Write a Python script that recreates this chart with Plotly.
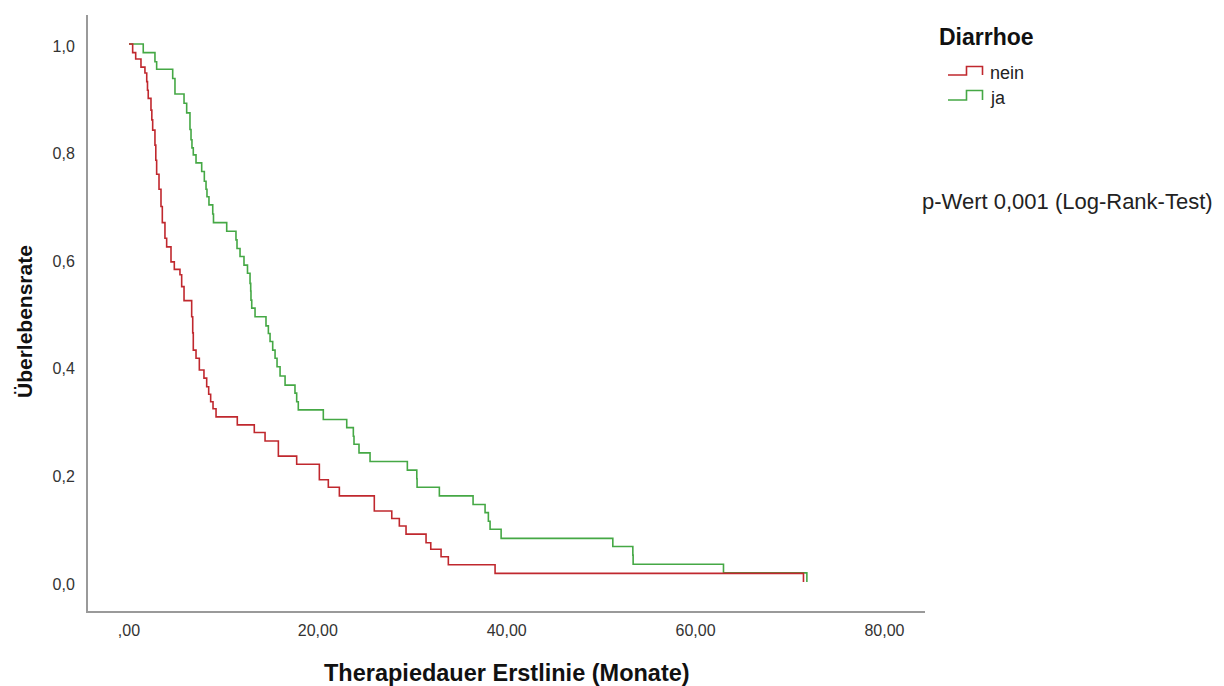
import plotly.graph_objects as go

# ---------------- data ----------------
# Kaplan-Meier steps: time of event (months) and survival after that event
nein_time = [0, 0.39, 0.71, 1.27, 1.69, 1.88, 1.96, 2.04, 2.33, 2.42, 2.51, 2.75,
             2.84, 2.93, 3.18, 3.39, 3.53, 3.81, 3.99, 4.45, 4.80, 5.40, 5.58,
             5.83, 6.64, 6.75, 6.81, 7.10, 7.45, 7.94, 8.23, 8.44, 8.65, 8.90,
             9.22, 11.47, 13.27, 14.41, 15.82, 17.76, 20.16, 21.11, 22.28, 25.98,
             27.83, 28.63, 29.34, 31.46, 31.96, 33.05, 33.82, 38.77, 71.43]
nein_surv = [1.0, 0.984, 0.972, 0.957, 0.946, 0.930, 0.914, 0.899, 0.877, 0.859,
             0.840, 0.812, 0.784, 0.758, 0.730, 0.698, 0.668, 0.639, 0.623, 0.595,
             0.581, 0.571, 0.549, 0.523, 0.493, 0.463, 0.431, 0.416, 0.394, 0.379,
             0.363, 0.349, 0.335, 0.322, 0.307, 0.292, 0.278, 0.262, 0.234, 0.219,
             0.190, 0.176, 0.160, 0.132, 0.118, 0.104, 0.089, 0.073, 0.061, 0.047,
             0.032, 0.016, 0.0]

ja_time = [0, 1.51, 2.75, 2.93, 4.63, 4.87, 5.83, 6.11, 6.46, 6.57, 6.67, 6.81,
           7.10, 7.70, 7.98, 8.16, 8.26, 8.47, 8.87, 8.95, 10.35, 11.33, 11.44,
           11.76, 12.18, 12.55, 12.82, 12.89, 12.92, 13.00, 13.35, 14.51, 14.76,
           14.94, 15.22, 15.47, 15.68, 16.00, 16.53, 17.58, 17.76, 17.93, 20.58,
           23.06, 23.76, 23.83, 24.36, 25.53, 29.48, 30.48, 30.51, 32.87, 36.44,
           37.71, 38.06, 38.24, 39.41, 51.24, 53.36, 53.39, 62.96, 71.79]
ja_surv = [1.0, 0.984, 0.967, 0.953, 0.936, 0.907, 0.890, 0.872, 0.841, 0.822,
           0.807, 0.794, 0.779, 0.763, 0.745, 0.730, 0.716, 0.701, 0.684, 0.668,
           0.652, 0.636, 0.620, 0.605, 0.589, 0.574, 0.555, 0.541, 0.524, 0.509,
           0.493, 0.476, 0.462, 0.447, 0.431, 0.416, 0.400, 0.383, 0.366, 0.351,
           0.335, 0.320, 0.302, 0.287, 0.271, 0.256, 0.240, 0.224, 0.208, 0.192,
           0.176, 0.160, 0.144, 0.129, 0.113, 0.098, 0.081, 0.066, 0.050, 0.033,
           0.017, 0.0]

x_tickvals = [0, 20, 40, 60, 80]
x_ticktext = [",00", "20,00", "40,00", "60,00", "80,00"]
y_tickvals = [0.0, 0.2, 0.4, 0.6, 0.8, 1.0]
y_ticktext = ["0,0", "0,2", "0,4", "0,6", "0,8", "1,0"]

group_names = ["nein", "ja"]
legend_title = "Diarrhoe"
x_title = "Therapiedauer Erstlinie (Monate)"
y_title = "Überlebensrate"
note_text = "p-Wert 0,001 (Log-Rank-Test)"

# ---------------- styling ----------------
RED = "#c0282e"
GREEN = "#45a845"
FONT = "Liberation Sans, Arial, sans-serif"
W, H = 1224, 686
L, R, T, B = 88, 299, 15, 75
PW, PH = W - L - R, H - T - B


def px(x):
    return (x - L) / PW


def py(y):
    return (H - B - y) / PH


fig = go.Figure()
fig.add_trace(go.Scatter(x=ja_time, y=ja_surv, mode="lines", name=group_names[1],
                         line=dict(color=GREEN, width=1.6, shape="hv"),
                         showlegend=False))
fig.add_trace(go.Scatter(x=nein_time, y=nein_surv, mode="lines", name=group_names[0],
                         line=dict(color=RED, width=1.6, shape="hv"),
                         showlegend=False))

axis_common = dict(showgrid=False, zeroline=False, showline=True,
                   linecolor="#9a9a9a", linewidth=2, ticks="",
                   tickfont=dict(family=FONT, size=16, color="#333333"),
                   fixedrange=True)

fig.update_layout(
    width=W, height=H, autosize=False,
    margin=dict(l=L, r=R, t=T, b=B, pad=0),
    paper_bgcolor="white", plot_bgcolor="white",
    xaxis=dict(range=[-4.34, 84.3], tickvals=x_tickvals, ticktext=x_ticktext,
               ticklabelstandoff=4, **axis_common),
    yaxis=dict(range=[-0.0539, 1.0539], tickvals=y_tickvals, ticktext=y_ticktext,
               ticklabelstandoff=8, ticklabelshift=2, **axis_common),
    showlegend=False,
)

annotations = [
    dict(text=f"<b>{x_title}</b>", x=px(507), y=py(673), xref="paper", yref="paper",
         showarrow=False, font=dict(family=FONT, size=23.5, color="#111111"),
         xanchor="center", yanchor="middle"),
    dict(text=f"<b>{y_title}</b>", x=px(24), y=py(322), xref="paper", yref="paper",
         showarrow=False, textangle=-90, font=dict(family=FONT, size=21, color="#111111"),
         xanchor="center", yanchor="middle"),
    dict(text=f"<b>{legend_title}</b>", x=px(937), y=py(37), xref="paper", yref="paper",
         showarrow=False, font=dict(family=FONT, size=23, color="#111111"),
         xanchor="left", yanchor="middle"),
    dict(text=group_names[0], x=px(988), y=py(73), xref="paper", yref="paper",
         showarrow=False, font=dict(family=FONT, size=18, color="#222222"),
         xanchor="left", yanchor="middle"),
    dict(text=group_names[1], x=px(988), y=py(98), xref="paper", yref="paper",
         showarrow=False, font=dict(family=FONT, size=18, color="#222222"),
         xanchor="left", yanchor="middle"),
    dict(text=note_text, x=px(920), y=py(202), xref="paper", yref="paper",
         showarrow=False, font=dict(family=FONT, size=22, color="#222222"),
         xanchor="left", yanchor="middle"),
]
fig.update_layout(annotations=annotations)


def glyph(y_low, y_high, color):
    pts = [(948, y_low), (966.5, y_low), (966.5, y_high), (982.5, y_high), (982.5, y_low)]
    path = "M " + " L ".join(f"{px(a):.5f},{py(b):.5f}" for a, b in pts)
    return dict(type="path", path=path, xref="paper", yref="paper",
                line=dict(color=color, width=1.6))


fig.update_layout(shapes=[glyph(75, 66.5, RED), glyph(100, 90.5, GREEN)])

fig.write_html("out.html", config={"displayModeBar": False})
